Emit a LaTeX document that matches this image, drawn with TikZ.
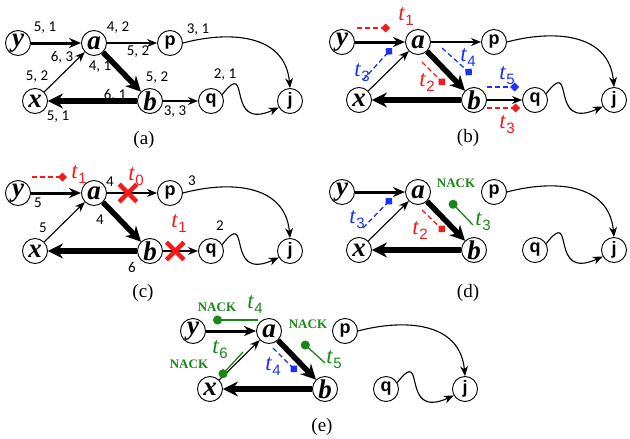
\documentclass[tikz,border=0pt]{standalone}
\usepackage{fontspec}
\setmainfont{Liberation Serif}
\setsansfont{Liberation Sans}
\newfontfamily\wtfont{Carlito}
\usetikzlibrary{arrows.meta,shapes.misc}

\definecolor{tred}{RGB}{245,25,25}
\definecolor{tblue}{RGB}{25,50,245}
\definecolor{tgreen}{RGB}{25,135,25}

% t with a sans subscript
\newcommand\tlab[1]{\textit{t}\raisebox{-5pt}{\fontsize{15}{15}\selectfont\sffamily #1}}

% nodes and links shared by all five panels
\newcommand\basenet[1]{%
  \node[vser] (#1-y) at (0,0) {y};
  \node[vser] (#1-a) at (76,0) {a};
  \node[vsan] (#1-p) at (152,0) {p};
  \node[vser] (#1-x) at (17,-58) {x};
  \node[vser] (#1-b) at (132,-58) {b};
  \node[vsan] (#1-q) at (193,-58) {q};
  \node[vsan] (#1-j) at (272,-58) {j};
  \draw[lnkmid] (#1-y) -- (#1-a);
  \draw[lnkthin] (#1-x) -- (#1-a);
  \draw[lnkbold] (#1-a) -- (#1-b);
  \draw[lnkbold] (#1-b) -- (#1-x);
  \draw[lnkthin] (#1-p.east) .. controls +(45,12) and +(-5,55) .. (#1-j.north);
  \draw[lnkthin] (#1-q.30) .. controls +(30,38) and +(-55,-25) .. (#1-j.210);
}

\begin{document}
\begin{tikzpicture}[x=1pt, y=1pt,
  vtx/.style={circle, draw, line width=0.9pt, minimum size=25pt, inner sep=0pt, fill=white},
  vser/.style={vtx, font=\fontsize{27}{27}\selectfont\bfseries\itshape},
  vsan/.style={vtx, font=\fontsize{18}{18}\selectfont\sffamily\bfseries},
  lnkthin/.style={line width=1.1pt, -{Stealth[length=10pt, width=8pt]}},
  lnkmid/.style={line width=3pt, -{Stealth[length=12pt, width=10pt]}},
  lnkbold/.style={line width=5.5pt, -{Stealth[length=15pt, width=15pt]}},
  wt/.style={font=\wtfont\fontsize{15}{15}\selectfont},
  tlabel/.style={font=\fontsize{23}{23}\selectfont, inner sep=0pt},
  msg/.style={line width=1.3pt, dash pattern=on 5pt off 3pt, -{Turned Square[length=9pt, width=9pt]}},
  nack/.style={line width=1.3pt, tgreen, {Circle[length=9pt]}-},
  nacktext/.style={font=\fontsize{13}{13}\selectfont\bfseries, text=tgreen},
  cut/.style={cross out, draw=tred, line width=4.5pt, minimum size=13pt, inner sep=0pt},
  panel/.style={font=\fontsize{19}{19}\selectfont}]

  \useasboundingbox (0,0) rectangle (630,-439);

  % 1. panel (a): weights on every link
  \begin{scope}[shift={(18,-43)}]
    \basenet{A}
    \draw[lnkthin] (A-a) -- (A-p);
    \draw[lnkthin] (A-b) -- (A-q);
    \node[wt] (A-w1) at (27,15) {5, 1};
    \node[wt] (A-w2) at (100,15) {4, 2};
    \node[wt] (A-w3) at (44,-14) {6, 3};
    \node[wt] (A-w4) at (120,-9) {5, 2};
    \node[wt] (A-w5) at (82,-24) {4, 1};
    \node[wt] (A-w6) at (19,-34) {5, 2};
    \node[wt] (A-w7) at (139,-35) {5, 2};
    \node[wt] (A-w8) at (97,-52) {6, 1};
    \node[wt] (A-w9) at (40,-74) {5, 1};
    \node[wt] (A-w10) at (157,-69) {3, 3};
    \node[wt] (A-w11) at (180,13) {3, 1};
    \node[wt] (A-w12) at (207,-32) {2, 1};
    \node[panel] (A-cap) at (126,-97) {(a)};
  \end{scope}

  % 2. panel (b): update messages
  \begin{scope}[shift={(342,-42)}]
    \basenet{B}
    \draw[lnkthin] (B-a) -- (B-p);
    \draw[lnkthin] (B-b) -- (B-q);
    \draw[msg, tred] (15,14) -- (48,14);
    \node[tlabel, text=tred] (B-t1) at (64,25) {\tlab{1}};
    \draw[msg, tblue] (21,-38) -- (50,-6);
    \node[tlabel, text=tblue] (B-t3) at (20,-31) {\tlab{3}};
    \draw[msg, tred] (80,-20) -- (103,-43);
    \node[tlabel, text=tred] (B-t2) at (85,-41) {\tlab{2}};
    \draw[msg, tblue] (100,-6) -- (130,-33);
    \node[tlabel, text=tblue] (B-t4) at (126,-16) {\tlab{4}};
    \draw[msg, tblue] (145,-45) -- (177,-45);
    \node[tlabel, text=tblue] (B-t5) at (165,-34) {\tlab{5}};
    \draw[msg, tred] (145,-66) -- (178,-66);
    \node[tlabel, text=tred] (B-t3b) at (165,-83) {\tlab{3}};
    \node[panel] (B-cap) at (126,-96) {(b)};
  \end{scope}

  % 3. panel (c): two links cut
  \begin{scope}[shift={(18,-193)}]
    \basenet{C}
    \draw[lnkthin] (C-a) -- (C-p) node[cut, pos=0.42] (C-k0) {};
    \draw[lnkthin] (C-b) -- (C-q) node[cut, pos=0.35] (C-k1) {};
    \draw[msg, tred] (14,16) -- (49,16);
    \node[tlabel, text=tred] (C-t1) at (61,18) {\tlab{1}};
    \node[tlabel, text=tred] (C-t0) at (118,16) {\tlab{0}};
    \node[tlabel, text=tred] (C-t1b) at (161,-31) {\tlab{1}};
    \node[wt] (C-w1) at (20,-10) {5};
    \node[wt] (C-w2) at (92,11) {4};
    \node[wt] (C-w3) at (82,-27) {4};
    \node[wt] (C-w4) at (25,-35) {5};
    \node[wt] (C-w5) at (114,-74) {6};
    \node[wt] (C-w6) at (174,12) {3};
    \node[wt] (C-w7) at (202,-33) {2};
    \node[panel] (C-cap) at (125,-100) {(c)};
  \end{scope}

  % 4. panel (d): first NACK
  \begin{scope}[shift={(342,-192)}]
    \basenet{D}
    \draw[msg, tblue] (21,-36) -- (50,-6);
    \node[tlabel, text=tblue] (D-t3) at (15,-28) {\tlab{3}};
    \draw[msg, tred] (80,-18) -- (103,-40);
    \node[tlabel, text=tred] (D-t2) at (78,-39) {\tlab{2}};
    \draw[nack] (108,-9) -- (131,-33);
    \node[nacktext] (D-n1) at (114,9) {NACK};
    \node[tlabel, text=tgreen] (D-t3g) at (141,-30) {\tlab{3}};
    \node[panel] (D-cap) at (126,-101) {(d)};
  \end{scope}

  % 5. panel (e): NACKs sent back
  \begin{scope}[shift={(193,-331)}]
    \basenet{E}
    \draw[nack] (20,11) -- (65,11);
    \node[nacktext] (E-n1) at (24,24) {NACK};
    \node[tlabel, text=tgreen] (E-t4) at (62,26) {\tlab{4}};
    \draw[nack] (27,-46) -- (50,-21);
    \node[tlabel, text=tgreen] (E-t6) at (27,-19) {\tlab{6}};
    \node[nacktext] (E-n2) at (-4,-33) {NACK};
    \draw[msg, tblue] (80,-17) -- (104,-41);
    \node[tlabel, text=tblue] (E-t4b) at (80,-36) {\tlab{4}};
    \draw[nack] (109,-11) -- (132,-32);
    \node[nacktext] (E-n3) at (115,7) {NACK};
    \node[tlabel, text=tgreen] (E-t5) at (141,-29) {\tlab{5}};
    \node[panel] (E-cap) at (129,-96) {(e)};
  \end{scope}

\end{tikzpicture}
\end{document}
